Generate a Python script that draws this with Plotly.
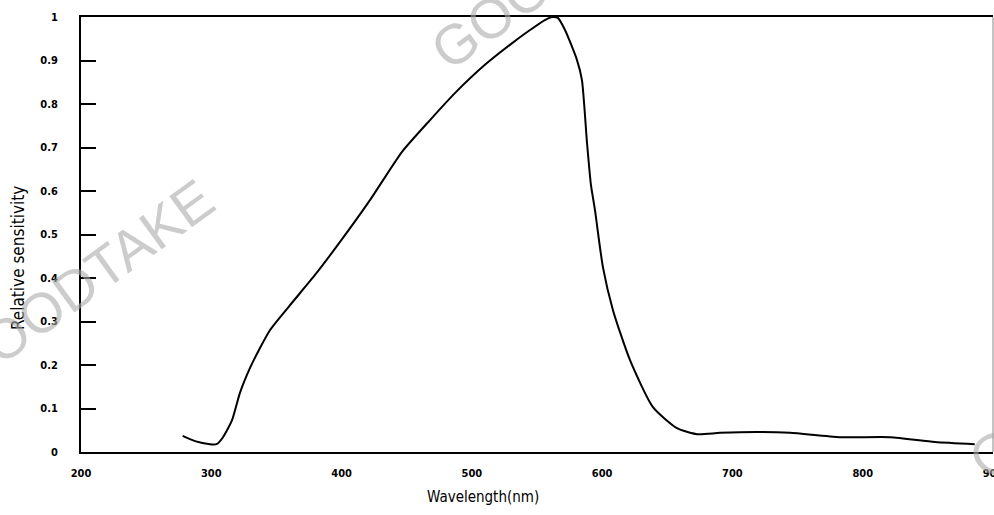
import plotly.graph_objects as go

wavelength = [278, 287.5, 299, 304, 309, 316, 322, 330, 337, 345, 360, 379.6, 398.8,
              421.8, 446.4, 467.9, 487, 510, 529.2, 544.6, 556, 562, 566, 571.5, 580.7,
              584.5, 588.4, 591.4, 594.5, 600.6, 608.3, 621.4, 639, 657.4, 672.8, 690.4,
              718.8, 744.2, 782.5, 821, 855.5, 886]
sensitivity = [0.037, 0.025, 0.018, 0.018, 0.034, 0.074, 0.136, 0.195, 0.237, 0.28, 0.336,
               0.407, 0.483, 0.579, 0.69, 0.763, 0.825, 0.89, 0.936, 0.97, 0.993, 1.0,
               0.998, 0.97, 0.901, 0.855, 0.71, 0.614, 0.556, 0.425, 0.326, 0.211, 0.103,
               0.055, 0.041, 0.044, 0.046, 0.044, 0.034, 0.034, 0.023, 0.018]

x_ticks = [200, 300, 400, 500, 600, 700, 800, 900]
x_tick_labels = ["200", "300", "400", "500", "600", "700", "800", "900"]
y_ticks = [0, 0.1, 0.2, 0.3, 0.4, 0.5, 0.6, 0.7, 0.8, 0.9, 1]
y_tick_labels = ["0", "0.1", "0.2", "0.3", "0.4", "0.5", "0.6", "0.7", "0.8", "0.9", "1"]

fam = "DejaVu Sans Condensed, Liberation Sans Narrow, Roboto Condensed, Roboto, sans-serif"
tick_font = dict(family=fam, size=11, color="black", weight="bold")

fig = go.Figure()
fig.add_trace(go.Scatter(
    x=wavelength, y=sensitivity, mode="lines",
    line=dict(color="black", width=2, shape="spline", smoothing=0.6),
    showlegend=False, hoverinfo="skip"))

fig.update_layout(
    width=994, height=515, autosize=False,
    margin=dict(l=81, r=1, t=17, b=63, autoexpand=False),
    paper_bgcolor="white", plot_bgcolor="white",
    xaxis=dict(range=[200, 900], tickvals=x_ticks, ticktext=x_tick_labels,
               showgrid=False, zeroline=False, showline=True, linecolor="black",
               linewidth=2, mirror=True, ticks="", tickfont=tick_font,
               ticklabelstandoff=10, ticklabeloverflow="allow", automargin=False),
    yaxis=dict(range=[0, 1], tickvals=y_ticks, ticktext=y_tick_labels,
               showgrid=False, zeroline=False, showline=True, linecolor="black",
               linewidth=2, ticks="inside", ticklen=15, tickwidth=2, tickcolor="black",
               tickfont=tick_font, ticklabelstandoff=19, ticklabeloverflow="allow",
               automargin=False),
    shapes=[dict(type="line", xref="paper", yref="paper", x0=1, x1=1, y0=0, y1=1,
                 line=dict(color="#888888", width=1))],
)

# axis titles
fig.add_annotation(text="Relative sensitivity", xref="paper", yref="paper",
                   x=-0.069, y=0.446, xanchor="center", yanchor="middle",
                   textangle=-90, showarrow=False,
                   font=dict(family=fam, size=17, color="black"))
fig.add_annotation(text="Wavelength(nm)", xref="paper", yref="paper",
                   x=0.441, y=-0.103, xanchor="center", yanchor="middle",
                   showarrow=False, font=dict(family=fam, size=15, color="black"))

# watermarks
wm_font = dict(family="Liberation Sans, Roboto, sans-serif", size=56,
               color="rgba(170,170,170,0.6)")
for (px, py) in [(-0.001, 0.384), (0.530, 1.120), (1.120, 0.178)]:
    fig.add_annotation(text="GOODTAKE", xref="paper", yref="paper", x=px, y=py,
                       xanchor="center", yanchor="middle",
                       showarrow=False, textangle=-36, font=wm_font)

fig.write_html("out.html", config={"displayModeBar": False, "responsive": False},
               post_script="document.body.style.margin='0';document.body.style.overflow='hidden';")
